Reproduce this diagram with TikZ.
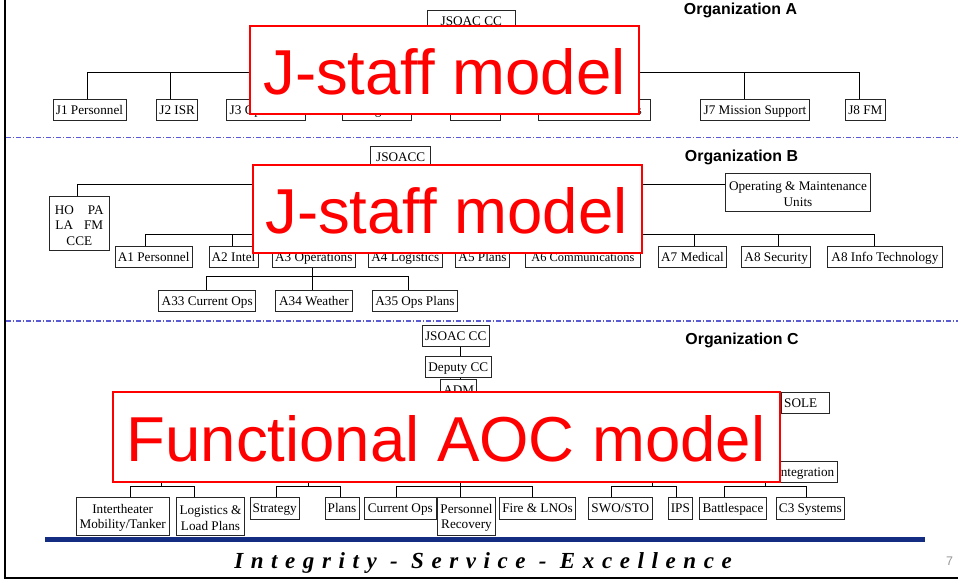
\documentclass[tikz,border=0pt]{standalone}
\usepackage{fontspec}
\setmainfont{Liberation Serif}
\newfontfamily\sansf{Liberation Sans}
\newfontfamily\mottof[LetterSpace=33]{Liberation Serif}
\definecolor{sepblue}{RGB}{90,90,215}
\definecolor{barblue}{RGB}{20,45,130}
\definecolor{pagegray}{RGB}{150,150,150}
\newcommand\firstline{\rule{0pt}{13pt}}
\begin{document}
\begin{tikzpicture}[x=1pt,y=-1pt,
  box/.style={draw=black!85, line width=0.8pt, inner sep=0pt, align=center, fill=white,
              font=\fontsize{13.2}{15.4}\selectfont, text height=12.2pt, text depth=2.8pt},
  multi/.style={text height={}, text depth={}},
  wh/.style 2 args={minimum width=#1pt, minimum height=#2pt},
  link/.style={draw=black, line width=0.8pt},
  orgtitle/.style={font=\sansf\bfseries\fontsize{15.9}{18}\selectfont, anchor=base, inner sep=0pt},
  redpanel/.style={draw=red, line width=2pt, fill=white},
  redtext/.style={text=red, font=\sansf\fontsize{63.5}{70}\selectfont, anchor=base, inner sep=0pt},
  sepline/.style={sepblue, line width=1.1pt, dash pattern=on 5pt off 2pt on 1pt off 2pt}
]
\useasboundingbox (0,0) rectangle (958,580);

% ---------- slide frame and separators ----------
\draw[line width=2.4pt] (5,0) -- (5,578) -- (958,578);
\draw[sepline] (6,137.5) -- (958,137.5);
\draw[sepline] (6,321) -- (958,321);

% ---------- Organization A ----------
\node[orgtitle] (tA) at (740.5,15) {Organization A};
\node[box, wh={87.3}{21}] (jA) at (471.3,21.2) {JSOAC CC};
\node[box, wh={73}{21}]   (j1) at (89.5,109.5)  {J1 Personnel};
\node[box, wh={41}{21}]   (j2) at (177.2,109.5) {J2 ISR};
\node[box, wh={79}{21}]   (j3) at (266.2,109.5) {J3 Operations};
\node[box, wh={69.7}{21}] (j4) at (377,109.5)   {J4 Logistics};
\node[box, wh={50}{21}]   (j5) at (475,109.5)   {};
\node[box, wh={112}{21}, font=\fontsize{12}{14}\selectfont] (j6) at (594,109.5) {J6 Communications};
\node[box, wh={108.6}{21}] (j7) at (755,109.5)  {J7 Mission Support};
\node[box, wh={39.3}{21}] (j8) at (865.3,109.5) {J8 FM};
\coordinate (busA) at (471.3,72.3);
\draw[link] (jA) -- (busA);
\foreach \n/\d in {j1/-2.5, j2/-6.9, j3/0, j4/0, j5/0, j6/0, j7/-10.7, j8/-6}
  \draw[link] ([xshift=\d pt]\n.north) |- (busA);

% ---------- Organization B ----------
\node[orgtitle] (tB) at (741.5,161.7) {Organization B};
\node[box, wh={60}{21}] (jB) at (400.7,157.2) {JSOACC};
\node[box, multi, wh={60}{53.3}] (ho) at (79.3,223.3) {\firstline HO\hspace{14pt}PA\\LA\hspace{11pt}FM\\CCE};
\node[box, multi, wh={144.6}{37.3}, font=\fontsize{13.2}{15.7}\selectfont] (om) at (798,192.3) {\firstline Operating \& Maintenance\\Units};
\node[box, wh={77.3}{20.6}]  (a1) at (153.7,257) {A1 Personnel};
\node[box, wh={49}{20.6}]    (a2) at (233.5,257) {A2 Intel};
\node[box, wh={83}{20.6}]    (a3) at (313.8,257) {A3 Operations};
\node[box, wh={74}{20.6}]    (a4) at (405.3,257) {A4 Logistics};
\node[box, wh={53.6}{20.6}]  (a5) at (482.5,257) {A5 Plans};
\node[box, wh={115.7}{20.6}, font=\fontsize{12.4}{14}\selectfont] (a6) at (582.9,257) {A6 Communications};
\node[box, wh={68.4}{20.6}]  (a7) at (692.5,257) {A7 Medical};
\node[box, wh={69}{20.6}]    (a8) at (776.2,257) {A8 Security};
\node[box, wh={114.3}{20.6}] (a9) at (884.9,257) {A8 Info Technology};
\node[box, wh={97}{21}]   (a33) at (207.2,300.8) {A33 Current Ops};
\node[box, wh={76.6}{21}] (a34) at (314,300.8)   {A34 Weather};
\node[box, wh={84.6}{21}] (a35) at (415,300.8)   {A35 Ops Plans};
\coordinate (busB) at (400.7,184.3);
\coordinate (busB2) at (400.7,234.3);
\coordinate (busB3) at (312.3,276.7);
\draw[link] (jB) -- (busB2);
\draw[link] ([xshift=-2.3pt]ho.north) |- (busB);
\draw[link] ([yshift=8pt]om.west) -- (busB);
\foreach \n/\d in {a1/-8.7, a2/-0.8, a3/-1.5, a4/0, a5/0, a6/0, a7/1.8, a8/1.8, a9/-10.2}
  \draw[link] ([xshift=\d pt]\n.north) |- (busB2);
\draw[link] (a3.south -| busB3) -- (busB3);
\foreach \n/\d in {a33/-0.5, a34/-1.7, a35/-6.3}
  \draw[link] ([xshift=\d pt]\n.north) |- (busB3);

% ---------- Organization C ----------
\node[orgtitle] (tC) at (742,344) {Organization C};
\node[box, wh={66.7}{21}]  (jC)  at (455.7,336.2) {JSOAC CC};
\node[box, wh={65.3}{20.6}] (dep) at (458.3,367)  {Deputy CC};
\node[box, wh={36}{21}]    (adm) at (458.7,389.5) {ADM};
\node[box, wh={47}{21}]    (lft) at (213.5,401.5) {};
\node[box, wh={48.3}{21}, text width=42pt, align=left] (sole) at (805.2,403.2) {SOLE};
\node[box, wh={52}{21}]    (c1) at (162.7,472.2) {};
\node[box, wh={141.4}{21}] (c2) at (310,472.2)   {};
\node[box, wh={110.3}{21}] (c3) at (464.2,472.2) {};
\node[box, wh={33.7}{21}]  (c4) at (595.9,472.2) {};
\node[box, wh={26}{21}]    (c5) at (652,472.2)   {};
\node[box, wh={145}{21}, text width=139pt, align=right] (c6) at (764.8,472.2) {Integration};
\node[box, multi, wh={93.3}{37.7}] (inter)  at (122.7,516.2) {\firstline Intertheater\\Mobility/Tanker};
\node[box, multi, wh={67.6}{37.7}] (logi)   at (210.5,516.2) {\firstline Logistics \&\\Load Plans};
\node[box, wh={49.3}{21.7}] (strat)  at (274.7,508.2) {Strategy};
\node[box, wh={34}{21.7}]   (plans)  at (342,508.2)   {Plans};
\node[box, wh={71.3}{21.7}] (curops) at (400.3,508.2) {Current Ops};
\node[box, multi, wh={57.6}{37.7}] (pers)   at (466.5,516.2) {\firstline Personnel\\Recovery};
\node[box, wh={76.4}{21.7}] (fire)   at (537.5,508.2) {Fire \& LNOs};
\node[box, wh={64}{21.7}]   (swo)    at (620.3,508.2) {SWO/STO};
\node[box, wh={24}{21.7}]   (ips)    at (680.3,508.2) {IPS};
\node[box, wh={67.4}{21.7}] (battle) at (733,508.2)   {Battlespace};
\node[box, wh={68}{21.7}]   (csys)   at (810.3,508.2) {C3 Systems};
\draw[link] ([xshift=4.6pt]jC.south) -- ([xshift=2pt]dep.north);
\draw[link] ([xshift=2pt]dep.south) -- ([xshift=1.6pt]adm.north);
\coordinate (bc1) at (161.7,486.7);
\coordinate (bc2) at (308.7,486.7);
\coordinate (bc3) at (460.7,486.7);
\coordinate (bc5) at (652.3,486.7);
\coordinate (bc6) at (765,486.7);
\draw[link] (c1.south -| bc1) -- (bc1);
\draw[link] (c2.south -| bc2) -- (bc2);
\draw[link] (c3.south -| bc3) -- (bc3);
\draw[link] (c5.south -| bc5) -- (bc5);
\draw[link] (c6.south -| bc6) -- (bc6);
\draw[link] ([xshift=7.3pt]inter.north) |- (bc1);
\draw[link] ([xshift=-16.5pt]logi.north) |- (bc1);
\draw[link] ([xshift=2pt]strat.north) |- (bc2);
\draw[link] ([xshift=-1.3pt]plans.north) |- (bc2);
\draw[link] ([xshift=-3.6pt]curops.north) |- (bc3);
\draw[link] ([xshift=-5.8pt]pers.north) |- (bc3);
\draw[link] ([xshift=-5.2pt]fire.north) |- (bc3);
\draw[link] ([xshift=-8.6pt]swo.north) |- (bc5);
\draw[link] ([xshift=-3.6pt]ips.north) |- (bc5);
\draw[link] ([xshift=-8.7pt]battle.north) |- (bc6);
\draw[link] ([xshift=-4.3pt]csys.north) |- (bc6);

% ---------- red captions ----------
\draw[redpanel] (250,26) rectangle (639,114);
\node[redtext] (capA) at (444.5,95) {J-staff model};
\draw[redpanel] (253,165) rectangle (642,253);
\node[redtext] (capB) at (446.5,233.3) {J-staff model};
\draw[redpanel] (113,392) rectangle (780,482);
\node[redtext] (capC) at (446,461.7) {Functional AOC model};

% ---------- footer ----------
\fill[barblue] (45,537) rectangle (925,542);
\node[anchor=base, inner sep=0pt] (motto) at (483,568.3)
  {\mottof\bfseries\itshape\fontsize{23}{25}\selectfont Integrity - Service - Excellence};
\node[anchor=base, inner sep=0pt, text=pagegray, font=\sansf\fontsize{12.5}{14}\selectfont] (pg) at (949.5,565) {7};
\end{tikzpicture}
\end{document}
